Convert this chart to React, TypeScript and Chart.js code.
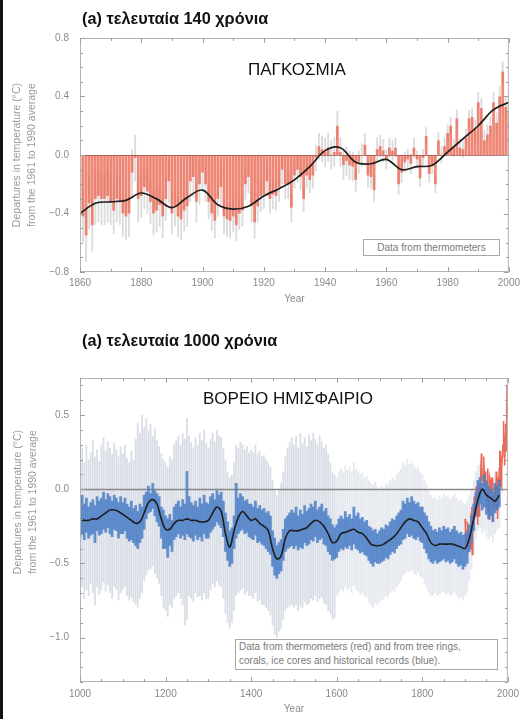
import React, { useEffect, useRef } from 'react';
import { Chart, registerables } from 'chart.js';
Chart.register(...registerables);

const FONT = "'Liberation Sans', Arial, Helvetica, sans-serif";
const AXIS_COLOR = '#8a8a8a';

// ---------- Panel 1: last 140 years (global) ----------
const START_140 = 1860;
// annual anomalies 1860..2000 (°C, relative to 1961-1990)
const globalAnomaly = [
  -0.38, -0.42, -0.55, -0.33, -0.48, -0.30, -0.28, -0.30, -0.30, -0.28,
  -0.32, -0.38, -0.30, -0.32, -0.40, -0.42, -0.40, -0.12, -0.02, -0.30,
  -0.28, -0.22, -0.25, -0.32, -0.40, -0.38, -0.34, -0.42, -0.30, -0.18,
  -0.40, -0.35, -0.42, -0.44, -0.38, -0.35, -0.18, -0.15, -0.32, -0.20,
  -0.12, -0.20, -0.32, -0.40, -0.45, -0.30, -0.22, -0.42, -0.44, -0.45,
  -0.42, -0.48, -0.40, -0.38, -0.20, -0.15, -0.35, -0.46, -0.35, -0.28,
  -0.27, -0.18, -0.30, -0.27, -0.28, -0.22, -0.10, -0.20, -0.20, -0.36,
  -0.14, -0.10, -0.15, -0.30, -0.14, -0.17, -0.14, -0.02, 0.06, 0.04,
  0.02, 0.05, 0.00, 0.02, 0.20, 0.02, -0.07, -0.04, -0.07, -0.08,
  -0.17, -0.05, 0.00, 0.07, -0.14, -0.15, -0.24, 0.04, 0.06, 0.03,
  -0.03, 0.05, 0.03, 0.05, -0.20, -0.12, -0.05, -0.03, -0.06, 0.05,
  -0.03, -0.16, -0.02, 0.13, -0.13, -0.07, -0.20, 0.10, 0.00, 0.06,
  0.15, 0.20, 0.05, 0.25, 0.05, 0.04, 0.12, 0.25, 0.26, 0.18,
  0.36, 0.32, 0.10, 0.14, 0.20, 0.36, 0.22, 0.40, 0.57, 0.33,
  0.30,
];
// half-width of the uncertainty range, per decade (1860s .. 2000)
const decadeUncertainty = [0.18, 0.16, 0.15, 0.14, 0.12, 0.11, 0.10, 0.09, 0.10, 0.08, 0.07, 0.06, 0.06, 0.07, 0.07];
const smoothYears140 = [1860, 1865, 1870, 1875, 1880, 1885, 1890, 1895, 1900, 1905, 1910, 1915, 1920, 1925, 1930, 1935, 1940, 1945, 1950, 1955, 1960, 1965, 1970, 1975, 1980, 1985, 1990, 1995, 2000];
const smooth140 = [-0.40, -0.33, -0.32, -0.31, -0.26, -0.30, -0.36, -0.29, -0.24, -0.34, -0.37, -0.35, -0.28, -0.23, -0.17, -0.08, 0.03, 0.05, -0.05, -0.06, -0.03, -0.10, -0.08, -0.07, 0.02, 0.11, 0.20, 0.31, 0.36];
const xTicks140 = [1860, 1880, 1900, 1920, 1940, 1960, 1980, 2000];
const yTicks140 = [-0.8, -0.4, 0, 0.4, 0.8];

// ---------- Panel 2: last 1000 years (northern hemisphere) ----------
const START_1000 = 1000; // proxy arrays every 5 years, 1000..1980
const proxyHigh = [
  -0.08, -0.04, -0.10, -0.06, -0.12, -0.09, -0.07, -0.11, -0.05, -0.08, -0.06, -0.02, -0.07, -0.03, -0.05, -0.08, -0.04, -0.06, -0.09, -0.05,
  -0.09, -0.06, -0.10, -0.12, -0.08, -0.13, -0.11, -0.15, -0.10, -0.12, -0.04, -0.02, 0.02, -0.03, 0.04, -0.01, -0.03, -0.05, -0.12, -0.14,
  -0.18, -0.20, -0.17, -0.21, -0.12, -0.10, -0.08, -0.12, -0.07, -0.10, 0.12, -0.05, -0.09, -0.11, -0.08, -0.12, -0.06, -0.10, -0.04, -0.09,
  -0.10, -0.05, -0.03, -0.07, -0.01, -0.04, -0.02, -0.08, -0.16, -0.22, -0.28, -0.26, -0.18, 0.04, -0.06, -0.03, -0.05, -0.08, -0.07, -0.10,
  -0.10, -0.12, -0.08, -0.13, -0.11, -0.14, -0.13, -0.16, -0.15, -0.18, -0.28, -0.33, -0.38, -0.36, -0.34, -0.27, -0.20, -0.18, -0.16, -0.14,
  -0.16, -0.12, -0.18, -0.14, -0.17, -0.11, -0.15, -0.13, -0.10, -0.12, -0.08, -0.14, -0.12, -0.10, -0.15, -0.13, -0.18, -0.20, -0.24, -0.26,
  -0.24, -0.20, -0.18, -0.20, -0.15, -0.19, -0.17, -0.20, -0.12, -0.18, -0.16, -0.20, -0.19, -0.22, -0.21, -0.25, -0.26, -0.28, -0.27, -0.30,
  -0.28, -0.26, -0.27, -0.24, -0.25, -0.22, -0.20, -0.21, -0.18, -0.16, -0.14, -0.08, -0.10, -0.06, -0.09, -0.05, -0.08, -0.10, -0.09, -0.12,
  -0.12, -0.16, -0.18, -0.22, -0.25, -0.28, -0.27, -0.29, -0.26, -0.28, -0.25, -0.27, -0.26, -0.29, -0.27, -0.25, -0.28, -0.30, -0.29, -0.31,
  -0.30, -0.28, -0.24, -0.18, -0.10, -0.02, 0.06, 0.08, 0.04, 0.10, 0.05, 0.02, 0.00, -0.02, 0.04, 0.02, 0.06,
];
const proxyLow = [
  -0.32, -0.30, -0.34, -0.29, -0.33, -0.31, -0.30, -0.36, -0.28, -0.31, -0.30, -0.27, -0.29, -0.26, -0.30, -0.32, -0.27, -0.28, -0.33, -0.30,
  -0.30, -0.28, -0.33, -0.35, -0.34, -0.36, -0.38, -0.40, -0.36, -0.33, -0.27, -0.20, -0.16, -0.15, -0.13, -0.18, -0.22, -0.25, -0.33, -0.40,
  -0.40, -0.46, -0.38, -0.42, -0.34, -0.32, -0.30, -0.33, -0.31, -0.34, -0.30, -0.32, -0.33, -0.35, -0.31, -0.34, -0.32, -0.35, -0.30, -0.33,
  -0.33, -0.29, -0.27, -0.25, -0.22, -0.24, -0.26, -0.32, -0.42, -0.48, -0.52, -0.50, -0.40, -0.33, -0.30, -0.28, -0.27, -0.30, -0.29, -0.32,
  -0.33, -0.34, -0.31, -0.36, -0.35, -0.37, -0.38, -0.40, -0.42, -0.44, -0.52, -0.58, -0.60, -0.57, -0.55, -0.48, -0.42, -0.40, -0.39, -0.38,
  -0.40, -0.38, -0.41, -0.39, -0.40, -0.36, -0.38, -0.37, -0.34, -0.35, -0.32, -0.36, -0.34, -0.33, -0.37, -0.38, -0.42, -0.44, -0.48, -0.47,
  -0.46, -0.42, -0.40, -0.41, -0.39, -0.40, -0.38, -0.41, -0.37, -0.40, -0.41, -0.43, -0.42, -0.44, -0.45, -0.48, -0.50, -0.52, -0.49, -0.50,
  -0.50, -0.49, -0.48, -0.46, -0.47, -0.44, -0.42, -0.43, -0.40, -0.38, -0.37, -0.34, -0.33, -0.30, -0.32, -0.31, -0.33, -0.34, -0.32, -0.35,
  -0.36, -0.40, -0.43, -0.47, -0.49, -0.50, -0.48, -0.50, -0.49, -0.48, -0.47, -0.49, -0.48, -0.50, -0.49, -0.47, -0.50, -0.52, -0.51, -0.54,
  -0.52, -0.50, -0.42, -0.36, -0.28, -0.18, -0.12, -0.10, -0.14, -0.12, -0.17, -0.20, -0.18, -0.22, -0.16, -0.14, -0.12,
];
const bandHigh = [
  0.22, 0.28, 0.18, 0.30, 0.20, 0.25, 0.33, 0.22, 0.27, 0.19, 0.30, 0.35, 0.26, 0.32, 0.28, 0.24, 0.31, 0.27, 0.22, 0.29,
  0.24, 0.30, 0.21, 0.18, 0.26, 0.20, 0.34, 0.45, 0.38, 0.50, 0.42, 0.48, 0.40, 0.44, 0.36, 0.41, 0.33, 0.29, 0.24, 0.20,
  0.18, 0.15, 0.22, 0.20, 0.30, 0.33, 0.36, 0.30, 0.38, 0.34, 0.48, 0.36, 0.32, 0.28, 0.35, 0.30, 0.38, 0.33, 0.40, 0.31,
  0.28, 0.34, 0.38, 0.32, 0.40, 0.36, 0.35, 0.28, 0.20, 0.12, 0.08, 0.10, 0.18, 0.30, 0.28, 0.32, 0.30, 0.27, 0.29, 0.25,
  0.27, 0.25, 0.30, 0.24, 0.26, 0.22, 0.23, 0.20, 0.18, 0.15, 0.06, 0.00, -0.04, 0.00, 0.04, 0.12, 0.22, 0.28, 0.32, 0.35,
  0.30, 0.36, 0.28, 0.38, 0.31, 0.35, 0.29, 0.37, 0.33, 0.38, 0.34, 0.30, 0.36, 0.32, 0.28, 0.30, 0.24, 0.18, 0.12, 0.10,
  0.08, 0.12, 0.14, 0.12, 0.16, 0.13, 0.15, 0.12, 0.18, 0.14, 0.12, 0.10, 0.11, 0.08, 0.09, 0.06, 0.04, 0.03, 0.05, 0.02,
  0.00, 0.02, 0.01, 0.04, 0.03, 0.06, 0.08, 0.07, 0.10, 0.12, 0.14, 0.18, 0.16, 0.20, 0.17, 0.19, 0.16, 0.14, 0.15, 0.12,
  0.10, 0.06, 0.03, -0.01, -0.04, -0.06, -0.05, -0.07, -0.04, -0.06, -0.03, -0.05, -0.04, -0.07, -0.05, -0.03, -0.06, -0.08, -0.07, -0.09,
  -0.10, -0.08, -0.04, 0.00, 0.06, 0.12, 0.16, 0.18, 0.14, 0.16, 0.12, 0.10, 0.08, 0.06, 0.12, 0.10, 0.14,
];
const bandLow = [
  -0.70, -0.66, -0.74, -0.68, -0.72, -0.64, -0.70, -0.78, -0.66, -0.71, -0.68, -0.63, -0.69, -0.65, -0.70, -0.74, -0.66, -0.68, -0.75, -0.70,
  -0.68, -0.66, -0.72, -0.75, -0.73, -0.76, -0.78, -0.80, -0.74, -0.70, -0.62, -0.58, -0.55, -0.54, -0.52, -0.57, -0.60, -0.64, -0.72, -0.80,
  -0.82, -0.86, -0.78, -0.80, -0.74, -0.72, -0.70, -0.74, -0.78, -0.92, -0.88, -0.72, -0.74, -0.76, -0.70, -0.73, -0.72, -0.75, -0.70, -0.74,
  -0.74, -0.68, -0.64, -0.66, -0.62, -0.65, -0.66, -0.74, -0.84, -0.90, -0.94, -0.90, -0.82, -0.72, -0.70, -0.68, -0.67, -0.71, -0.69, -0.72,
  -0.72, -0.74, -0.70, -0.76, -0.75, -0.78, -0.78, -0.80, -0.82, -0.85, -0.92, -0.98, -1.00, -0.96, -0.94, -0.88, -0.82, -0.80, -0.79, -0.78,
  -0.80, -0.78, -0.82, -0.79, -0.80, -0.76, -0.78, -0.77, -0.74, -0.75, -0.72, -0.76, -0.74, -0.73, -0.77, -0.78, -0.82, -0.84, -0.88, -0.87,
  -0.72, -0.70, -0.68, -0.69, -0.66, -0.68, -0.67, -0.70, -0.65, -0.68, -0.69, -0.71, -0.70, -0.72, -0.73, -0.76, -0.78, -0.80, -0.77, -0.78,
  -0.76, -0.75, -0.74, -0.72, -0.73, -0.70, -0.68, -0.69, -0.66, -0.64, -0.62, -0.58, -0.57, -0.55, -0.56, -0.55, -0.57, -0.58, -0.56, -0.59,
  -0.60, -0.64, -0.67, -0.70, -0.72, -0.72, -0.70, -0.72, -0.71, -0.70, -0.69, -0.71, -0.70, -0.72, -0.71, -0.69, -0.72, -0.74, -0.73, -0.75,
  -0.72, -0.70, -0.62, -0.54, -0.44, -0.34, -0.28, -0.26, -0.30, -0.28, -0.32, -0.34, -0.32, -0.36, -0.30, -0.28, -0.26,
];
// smoothed reconstruction every 10 years, 1000..1980
const smooth1000 = [
  -0.20, -0.21, -0.21, -0.20, -0.20, -0.18, -0.16, -0.14, -0.14, -0.15,
  -0.17, -0.19, -0.21, -0.23, -0.22, -0.16, -0.09, -0.07, -0.10, -0.20,
  -0.27, -0.27, -0.23, -0.21, -0.21, -0.20, -0.21, -0.21, -0.22, -0.22,
  -0.21, -0.16, -0.12, -0.15, -0.30, -0.39, -0.28, -0.19, -0.15, -0.18,
  -0.21, -0.20, -0.23, -0.25, -0.28, -0.40, -0.47, -0.45, -0.33, -0.28,
  -0.28, -0.28, -0.27, -0.26, -0.23, -0.21, -0.22, -0.25, -0.30, -0.36,
  -0.35, -0.30, -0.29, -0.28, -0.27, -0.29, -0.30, -0.33, -0.37, -0.38,
  -0.38, -0.37, -0.35, -0.33, -0.30, -0.26, -0.22, -0.20, -0.21, -0.22,
  -0.26, -0.30, -0.36, -0.38, -0.37, -0.37, -0.37, -0.37, -0.38, -0.39,
  -0.40, -0.33, -0.20, -0.07, 0.00, -0.04, -0.06, -0.08, -0.04,
];
const START_INSTR = 1900; // instrumental (thermometer) record, annual 1900..2000
const instrumental = [
  -0.20, -0.25, -0.35, -0.38, -0.40, -0.30, -0.22, -0.42, -0.38, -0.40,
  -0.36, -0.38, -0.40, -0.34, -0.16, -0.12, -0.30, -0.44, -0.30, -0.22,
  -0.20, -0.05, -0.20, -0.14, -0.18, -0.10, 0.02, -0.06, -0.06, -0.24,
  -0.02, 0.04, 0.00, -0.18, 0.02, -0.05, 0.00, 0.10, 0.24, 0.14,
  0.08, 0.06, 0.05, 0.12, 0.22, 0.06, 0.02, 0.12, 0.06, 0.00,
  -0.12, 0.02, 0.06, 0.14, -0.06, -0.08, -0.20, 0.04, 0.08, 0.06,
  -0.02, 0.06, 0.04, 0.08, -0.22, -0.14, -0.06, -0.04, -0.10, 0.02,
  -0.04, -0.14, -0.10, 0.12, -0.14, -0.04, -0.20, 0.08, -0.04, 0.02,
  0.14, 0.26, 0.02, 0.26, 0.04, 0.02, 0.14, 0.22, 0.30, 0.28,
  0.46, 0.36, 0.16, 0.18, 0.30, 0.44, 0.26, 0.46, 0.70, 0.52,
  0.48,
];
const xTicks1000 = [1000, 1200, 1400, 1600, 1800, 2000];
const yTicks1000 = [-1.0, -0.5, 0, 0.5];

const fmtY = (v: number) => (v < 0 ? '\u2212' : '') + Math.abs(v).toFixed(1);

type Deco = { xMinor: number; xMajor: number; yMinor: number; yMajor: number; zeroAfter: number; zeroColor: string; zeroWidth: number };

function decoPlugin(d: Deco) {
  const isMult = (v: number, m: number) => Math.abs(v / m - Math.round(v / m)) < 1e-6;
  return {
    id: 'deco',
    afterDatasetDraw(chart: any, args: any) {
      if (args.index !== d.zeroAfter) return;
      const { ctx, chartArea: a, scales } = chart;
      const y0 = Math.round(scales.y.getPixelForValue(0)) + 0.5;
      ctx.save();
      ctx.strokeStyle = d.zeroColor;
      ctx.lineWidth = d.zeroWidth;
      ctx.beginPath();
      ctx.moveTo(a.left, y0);
      ctx.lineTo(a.right, y0);
      ctx.stroke();
      ctx.restore();
    },
    afterDraw(chart: any) {
      const { ctx, chartArea: a, scales } = chart;
      const x = scales.x, y = scales.y;
      ctx.save();
      ctx.strokeStyle = '#b4b4b4';
      ctx.lineWidth = 1;
      ctx.strokeRect(a.left + 0.5, a.top + 0.5, a.right - a.left - 1, a.bottom - a.top - 1);
      ctx.strokeStyle = '#a0a0a0';
      ctx.beginPath();
      const nx = Math.round((x.max - x.min) / d.xMinor);
      for (let i = 0; i <= nx; i++) {
        const v = x.min + i * d.xMinor;
        const px = Math.round(x.getPixelForValue(v)) + 0.5;
        const len = isMult(v, d.xMajor) ? 5 : 3;
        ctx.moveTo(px, a.bottom);
        ctx.lineTo(px, a.bottom - len);
        ctx.moveTo(px, a.top);
        ctx.lineTo(px, a.top + len);
      }
      const k0 = Math.ceil(y.min / d.yMinor - 1e-6);
      const k1 = Math.floor(y.max / d.yMinor + 1e-6);
      for (let k = k0; k <= k1; k++) {
        const v = k * d.yMinor;
        const py = Math.round(y.getPixelForValue(v)) + 0.5;
        const len = isMult(v, d.yMajor) ? 5 : 3;
        ctx.moveTo(a.left, py);
        ctx.lineTo(a.left + len, py);
        ctx.moveTo(a.right, py);
        ctx.lineTo(a.right - len, py);
      }
      ctx.stroke();
      ctx.restore();
    },
  };
}

function axes(opts: { xMin: number; xMax: number; xTicks: number[]; yMin: number; yMax: number; yTicks: number[]; xHeight: number; tickPad: number; titlePad: number }) {
  const font = { family: FONT, size: 10 };
  return {
    x: {
      type: 'linear',
      min: opts.xMin,
      max: opts.xMax,
      offset: false,
      grid: { display: false, drawTicks: false },
      border: { display: false },
      afterBuildTicks: (s: any) => { s.ticks = opts.xTicks.map((v) => ({ value: v })); },
      ticks: { color: AXIS_COLOR, font, padding: opts.tickPad, maxRotation: 0, autoSkip: false, callback: (v: any) => String(v) },
      title: { display: true, text: 'Year', color: AXIS_COLOR, font, padding: { top: 0, bottom: opts.titlePad } },
      afterFit: (s: any) => { s.height = opts.xHeight; },
    },
    y: {
      type: 'linear',
      min: opts.yMin,
      max: opts.yMax,
      grid: { display: false, drawTicks: false },
      border: { display: false },
      afterBuildTicks: (s: any) => { s.ticks = opts.yTicks.map((v) => ({ value: v })); },
      ticks: { color: AXIS_COLOR, font, padding: 11, autoSkip: false, callback: (v: any) => fmtY(Number(v)) },
      afterFit: (s: any) => { s.width = 80; },
    },
  };
}

function buildTop(): any {
  const bars = globalAnomaly.map((v, i) => ({ x: START_140 + i, y: v }));
  const errs = globalAnomaly.map((v, i) => {
    const e = decadeUncertainty[Math.floor(i / 10)];
    return { x: START_140 + i, y: [v - e, v + e] };
  });
  const smooth = smooth140.map((v, i) => ({ x: smoothYears140[i], y: v }));
  return {
    type: 'bar',
    data: {
      datasets: [
        { type: 'bar', data: errs, backgroundColor: 'rgba(190,190,190,0.55)', barPercentage: 0.6, categoryPercentage: 1, grouped: false, order: 3 },
        { type: 'bar', data: bars, backgroundColor: 'rgba(236,108,88,0.82)', barPercentage: 0.9, categoryPercentage: 1, grouped: false, order: 2 },
        { type: 'line', data: smooth, borderColor: '#1e1e1e', borderWidth: 1.7, pointRadius: 0, tension: 0.35, order: 1 },
      ],
    },
    options: {
      animation: false,
      responsive: false,
      maintainAspectRatio: false,
      events: [],
      layout: { padding: { top: 38, right: 14, left: 0, bottom: 0 } },
      plugins: { legend: { display: false }, tooltip: { enabled: false } },
      scales: axes({ xMin: 1860, xMax: 2000, xTicks: xTicks140, yMin: -0.8, yMax: 0.8, yTicks: yTicks140, xHeight: 38, tickPad: 5, titlePad: 5 }),
    },
    plugins: [decoPlugin({ xMinor: 10, xMajor: 20, yMinor: 0.1, yMajor: 0.4, zeroAfter: 1, zeroColor: 'rgba(150,70,60,0.7)', zeroWidth: 1 })],
  };
}

function buildBottom(): any {
  const band = bandHigh.map((h, i) => ({ x: START_1000 + 5 * i, y: [bandLow[i], h] }));
  const proxy = proxyHigh.map((h, i) => ({ x: START_1000 + 5 * i, y: [proxyLow[i], h] }));
  const smooth = smooth1000.map((v, i) => ({ x: START_1000 + 10 * i, y: v }));
  const instr = instrumental.map((v, i) => ({ x: START_INSTR + i, y: v }));
  return {
    type: 'bar',
    data: {
      datasets: [
        {
          type: 'bar', data: band, grouped: false, barPercentage: 0.85, categoryPercentage: 1, order: 4,
          backgroundColor: (c: any) => (c.raw && c.raw.x < 1600 ? 'rgba(210,216,226,0.85)' : 'rgba(226,230,237,0.9)'),
        },
        { type: 'line', data: instr, borderColor: 'rgba(232,90,70,0.9)', borderWidth: 1.5, pointRadius: 0, tension: 0, order: 3 },
        { type: 'bar', data: proxy, backgroundColor: 'rgba(78,128,200,0.85)', grouped: false, barPercentage: 1, categoryPercentage: 1, order: 2 },
        { type: 'line', data: smooth, borderColor: '#1e1e1e', borderWidth: 1.6, pointRadius: 0, tension: 0.35, order: 1 },
      ],
    },
    options: {
      animation: false,
      responsive: false,
      maintainAspectRatio: false,
      events: [],
      layout: { padding: { top: 68, right: 14, left: 0, bottom: 0 } },
      plugins: { legend: { display: false }, tooltip: { enabled: false } },
      scales: axes({ xMin: 1000, xMax: 2000, xTicks: xTicks1000, yMin: -1.3, yMax: 0.75, yTicks: yTicks1000, xHeight: 37, tickPad: 6, titlePad: 4 }),
    },
    plugins: [decoPlugin({ xMinor: 50, xMajor: 200, yMinor: 0.1, yMajor: 0.5, zeroAfter: 0, zeroColor: 'rgba(125,125,125,0.9)', zeroWidth: 1.5 })],
  };
}

function ChartCanvas({ top, height, build }: { top: number; height: number; build: () => any }) {
  const ref = useRef<HTMLCanvasElement>(null);
  useEffect(() => {
    const chart = new Chart(ref.current as HTMLCanvasElement, build());
    return () => chart.destroy();
  }, []);
  return <canvas ref={ref} width={525} height={height} style={{ position: 'absolute', left: 0, top, width: 525, height }} />;
}

const abs = (left: number, top: number, extra: any = {}) => ({ position: 'absolute' as const, left, top, whiteSpace: 'nowrap' as const, fontFamily: FONT, ...extra });

function YTitle({ cx, cy }: { cx: number; cy: number }) {
  return (
    <div style={abs(cx, cy, { transform: 'translate(-50%, -50%) rotate(-90deg)', fontSize: 10.5, lineHeight: '15px', color: '#9a9a9a', textAlign: 'center' })}>
      <div>Departures in temperature (°C)</div>
      <div>from the 1961 to 1990 average</div>
    </div>
  );
}

export default function App() {
  return (
    <div style={{ position: 'absolute', left: 0, top: 0, width: 525, height: 719, background: '#fff', overflow: 'hidden' }}>
      <ChartCanvas top={0} height={310} build={buildTop} />
      <ChartCanvas top={310} height={409} build={buildBottom} />
      <div style={{ position: 'absolute', left: 0, top: 0, width: 3, height: 719, background: '#111' }} />

      <div style={abs(82, 9, { fontSize: 16.3, fontWeight: 'bold', color: '#111', lineHeight: '18px' })}>(a) τελευταία 140 χρόνια</div>
      <div style={abs(248, 60, { fontSize: 17, color: '#111', lineHeight: '20px' })}>ΠΑΓΚΟΣΜΙΑ</div>
      <div style={abs(363, 239, { width: 135, height: 15, border: '1px solid #a8a8a8', background: '#fff', fontSize: 10, lineHeight: '15px', color: '#7a7a7a', textAlign: 'center' })}>Data from thermometers</div>
      <YTitle cx={24} cy={155} />

      <div style={abs(82, 331, { fontSize: 16.3, fontWeight: 'bold', color: '#111', lineHeight: '18px' })}>(a) τελευταία 1000 χρόνια</div>
      <div style={abs(203, 389, { fontSize: 17, color: '#111', lineHeight: '20px' })}>ΒΟΡΕΙΟ ΗΜΙΣΦΑΙΡΙΟ</div>
      <div style={abs(235, 639, { width: 258, height: 29, border: '1px solid #a8a8a8', background: '#fff', fontSize: 10, lineHeight: '14px', color: '#7a7a7a', paddingLeft: 3 })}>
        <div>Data from thermometers (red) and from tree rings,</div>
        <div>corals, ice cores and historical records (blue).</div>
      </div>
      <YTitle cx={25} cy={502} />
    </div>
  );
}
